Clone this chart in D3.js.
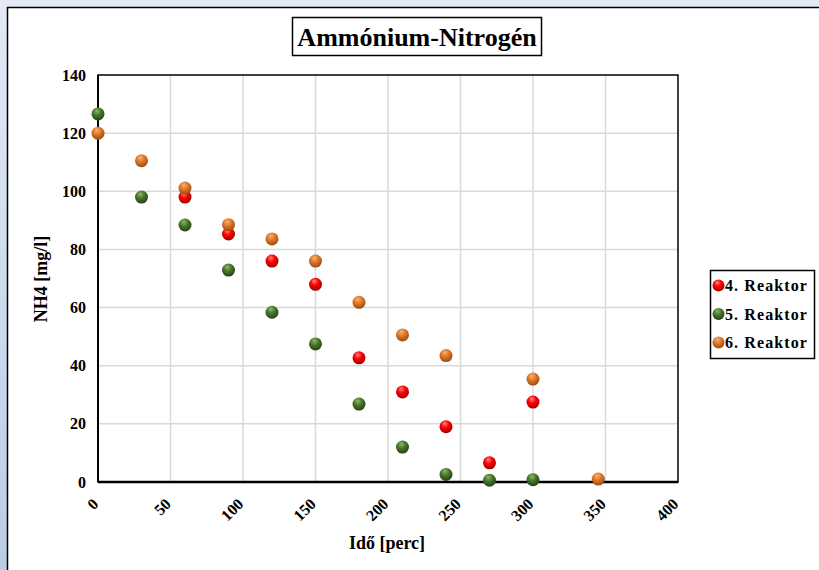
<!DOCTYPE html>
<html>
<head>
<meta charset="utf-8">
<script src="https://cdn.jsdelivr.net/npm/d3@7"></script>
<style>
  html, body { margin: 0; padding: 0; }
  svg { display: block; }
</style>
</head>
<body>
<svg id="chart" width="819" height="570"></svg>
<script>
// Sampling times (minutes) and NH4 concentrations per reactor
const time4 = [60, 90, 120, 150, 180, 210, 240, 270, 300];
const nh4Reactor4 = [98, 85.3, 76, 68, 42.7, 31, 19, 6.6, 27.5];

const time5 = [0, 30, 60, 90, 120, 150, 180, 210, 240, 270, 300];
const nh4Reactor5 = [126.6, 98, 88.4, 72.9, 58.4, 47.5, 26.8, 12, 2.6, 0.6, 0.8];

const time6 = [0, 30, 60, 90, 120, 150, 180, 210, 240, 300, 345];
const nh4Reactor6 = [120, 110.5, 101.1, 88.5, 83.6, 76, 61.8, 50.6, 43.5, 35.4, 1.0];

const seriesNames = ["4. Reaktor", "5. Reaktor", "6. Reaktor"];
const xTicks = [0, 50, 100, 150, 200, 250, 300, 350, 400];
const yTicks = [0, 20, 40, 60, 80, 100, 120, 140];

const series = [
  { name: seriesNames[0], xs: time4, ys: nh4Reactor4, light: "#ff8a8a", mid: "#ff0000", dark: "#a00000" },
  { name: seriesNames[1], xs: time5, ys: nh4Reactor5, light: "#8fb86a", mid: "#4a7a2a", dark: "#24401a" },
  { name: seriesNames[2], xs: time6, ys: nh4Reactor6, light: "#f6b27a", mid: "#e07a2a", dark: "#9a4a10" }
];

const svg = d3.select("#chart");
const W = 819, H = 570;
const FONT = '"Liberation Serif"';

const defs = svg.append("defs");
const bg = defs.append("linearGradient").attr("id", "bgGrad")
  .attr("x1", 0).attr("y1", 0).attr("x2", 0).attr("y2", 1);
bg.append("stop").attr("offset", "0%").attr("stop-color", "#e3eaf5");
bg.append("stop").attr("offset", "100%").attr("stop-color", "#b9cde6");

series.forEach((s, i) => {
  const g = defs.append("radialGradient").attr("id", "ball" + i)
    .attr("cx", "45%").attr("cy", "35%").attr("r", "65%").attr("fx", "40%").attr("fy", "25%");
  g.append("stop").attr("offset", "0%").attr("stop-color", s.light);
  g.append("stop").attr("offset", "45%").attr("stop-color", s.mid);
  g.append("stop").attr("offset", "100%").attr("stop-color", s.dark);
});

// Background frame and white chart panel
svg.append("rect").attr("width", W).attr("height", H).attr("fill", "url(#bgGrad)");
svg.append("rect").attr("x", 7.5).attr("y", 7.5).attr("width", W + 10).attr("height", H + 10)
  .attr("fill", "#ffffff").attr("stroke", "#000").attr("stroke-width", 1.5);

const plot = { left: 98, right: 678, top: 75, bottom: 482 };
const x = d3.scaleLinear().domain([0, 400]).range([plot.left, plot.right]);
const y = d3.scaleLinear().domain([0, 140]).range([plot.bottom, plot.top]);

// Gridlines
svg.append("g").selectAll("line").data(xTicks.slice(1, -1)).join("line")
  .attr("x1", d => x(d)).attr("x2", d => x(d)).attr("y1", plot.top).attr("y2", plot.bottom)
  .attr("stroke", "#d9d9d9").attr("stroke-width", 1.5);
svg.append("g").selectAll("line").data(yTicks.slice(1, -1)).join("line")
  .attr("x1", plot.left).attr("x2", plot.right).attr("y1", d => y(d)).attr("y2", d => y(d))
  .attr("stroke", "#d9d9d9").attr("stroke-width", 1.5);

// Plot frame
svg.append("rect").attr("x", plot.left).attr("y", plot.top)
  .attr("width", plot.right - plot.left).attr("height", plot.bottom - plot.top)
  .attr("fill", "none").attr("stroke", "#000").attr("stroke-width", 1.5);
svg.append("line").attr("x1", plot.left).attr("x2", plot.right).attr("y1", plot.bottom).attr("y2", plot.bottom)
  .attr("stroke", "#000").attr("stroke-width", 2.5);
svg.append("line").attr("x1", plot.left).attr("x2", plot.left).attr("y1", plot.top).attr("y2", plot.bottom)
  .attr("stroke", "#000").attr("stroke-width", 2);

// Axes (labels only)
const yAxis = svg.append("g").attr("transform", `translate(${plot.left},0)`)
  .call(d3.axisLeft(y).tickValues(yTicks).tickSize(0).tickPadding(12));
yAxis.attr("font-family", FONT).attr("font-size", 16).attr("font-weight", "bold");
yAxis.select(".domain").remove();
yAxis.selectAll("text").attr("fill", "#000");

const xAxis = svg.append("g").attr("transform", `translate(0,${plot.bottom})`)
  .call(d3.axisBottom(x).tickValues(xTicks).tickSize(0).tickPadding(0));
xAxis.attr("font-family", FONT).attr("font-size", 16).attr("font-weight", "bold");
xAxis.select(".domain").remove();
xAxis.selectAll("text").attr("fill", "#000")
  .attr("text-anchor", "end").attr("dy", null).attr("y", 0)
  .attr("transform", "translate(1,23) rotate(-45)");

// Axis titles
svg.append("text").attr("x", 387).attr("y", 549).attr("text-anchor", "middle")
  .attr("font-family", FONT).attr("font-weight", "bold").attr("font-size", 18).text("Idő [perc]");
svg.append("text").attr("transform", "translate(47,279) rotate(-90)").attr("text-anchor", "middle")
  .attr("font-family", FONT).attr("font-weight", "bold").attr("font-size", 18).text("NH4 [mg/l]");

// Title box
svg.append("rect").attr("x", 292.5).attr("y", 17.5).attr("width", 249).attr("height", 38)
  .attr("fill", "#fff").attr("stroke", "#000").attr("stroke-width", 1.5);
svg.append("text").attr("x", 417).attr("y", 46).attr("text-anchor", "middle")
  .attr("font-family", FONT).attr("font-weight", "bold").attr("font-size", 26).text("Ammónium-Nitrogén");

// Data points
series.forEach((s, i) => {
  svg.append("g").selectAll("circle").data(s.xs.map((t, k) => [t, s.ys[k]])).join("circle")
    .attr("cx", d => x(d[0])).attr("cy", d => y(d[1])).attr("r", 6.5)
    .attr("fill", `url(#ball${i})`);
});

// Legend
const lg = svg.append("g");
lg.append("rect").attr("x", 710.5).attr("y", 270.5).attr("width", 104).attr("height", 88)
  .attr("fill", "#fff").attr("stroke", "#000").attr("stroke-width", 1.5);
series.forEach((s, i) => {
  const cy = 285.5 + i * 28.5;
  lg.append("circle").attr("cx", 718.5).attr("cy", cy).attr("r", 6).attr("fill", `url(#ball${i})`);
  lg.append("text").attr("x", 725).attr("y", cy + 5.5)
    .attr("font-family", FONT).attr("font-weight", "bold").attr("font-size", 16)
    .attr("letter-spacing", 1.1).text(s.name);
});
</script>
</body>
</html>
